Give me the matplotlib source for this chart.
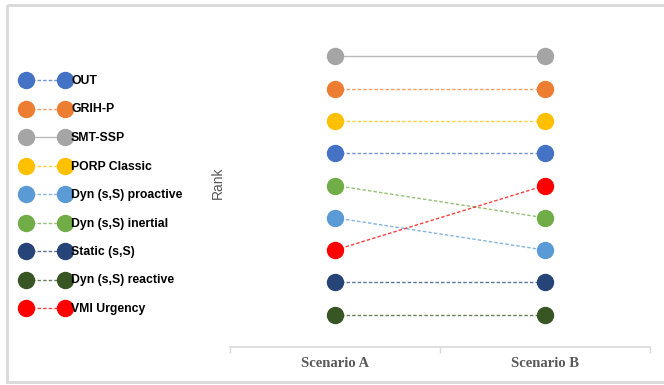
import matplotlib.pyplot as plt
from matplotlib.patches import Rectangle

# rank of each policy in the two scenarios (1 = best)
policies = ["OUT", "GRIH-P", "SMT-SSP", "PORP Classic", "Dyn (s,S) proactive",
            "Dyn (s,S) inertial", "Static (s,S)", "Dyn (s,S) reactive", "VMI Urgency"]
rank_a = [4, 2, 1, 3, 6, 5, 8, 9, 7]
rank_b = [4, 2, 1, 3, 7, 6, 8, 9, 5]
scenarios = ["Scenario A", "Scenario B"]

colors = ["#4472C4", "#ED7D31", "#A5A5A5", "#FFC000", "#5B9BD5",
          "#70AD47", "#264478", "#375623", "#FF0000"]
styles = ["--", "--", "-", "--", "--", "--", "--", "--", "--"]

W, H = 664, 385
fig = plt.figure(figsize=(W / 100, H / 100), dpi=100)

# main slope chart
ax = fig.add_axes([230 / W, 1 - 347 / H, 420 / W, (347 - 24) / H])
for i, name in enumerate(policies):
    ax.plot([0, 1], [rank_a[i], rank_b[i]], ls=styles[i], color=colors[i],
            lw=1, alpha=0.75, dashes=(2.5, 1.5) if styles[i] == "--" else (None, None),
            zorder=1)
    ax.plot([0, 1], [rank_a[i], rank_b[i]], ls="none", marker="o", ms=11.5,
            color=colors[i], zorder=2)

ax.set_xlim(-0.5, 1.5)
ax.set_ylim(10, 0)
ax.set_yticks([])
ax.set_xticks([-0.5, 0.5, 1.5])
ax.set_xticklabels([])
ax.tick_params(axis="x", length=4, color="#d9d9d9", width=1)
for s in ["top", "right", "left"]:
    ax.spines[s].set_visible(False)
ax.spines["bottom"].set_color("#d9d9d9")
ax.spines["bottom"].set_linewidth(1.2)
for i, lab in enumerate(scenarios):
    ax.text(i, 10.5, lab, ha="center", va="center", fontsize=10.5,
            family="Liberation Serif", weight="bold", color="#595959")

fig.text(218 / W, 1 - 183 / H, "Rank", rotation=90, ha="center", va="center",
         fontsize=10, family="Liberation Sans", color="#595959")

# legend and frame drawn in pixel coordinates
lg = fig.add_axes([0, 0, 1, 1], zorder=-1)
lg.set_xlim(0, W)
lg.set_ylim(H, 0)
lg.axis("off")
# frame runs off the right edge, so only left, top and bottom show
lg.add_patch(Rectangle((7, 5), W + 40, 377, fill=False, ec="#d9d9d9", lw=2))
for i, name in enumerate(policies):
    y = 80 + i * 28.5
    lg.plot([26, 65], [y, y], ls=styles[i], color=colors[i], lw=1, alpha=0.75,
            dashes=(2.5, 1.5) if styles[i] == "--" else (None, None))
    lg.plot([26, 65], [y, y], ls="none", marker="o", ms=11.5, color=colors[i])
    lg.text(71, y + 1, name, ha="left", va="center", fontsize=8.8,
            family="Liberation Sans", weight="bold", color="#000000")

fig.savefig("out.png", dpi=100)
